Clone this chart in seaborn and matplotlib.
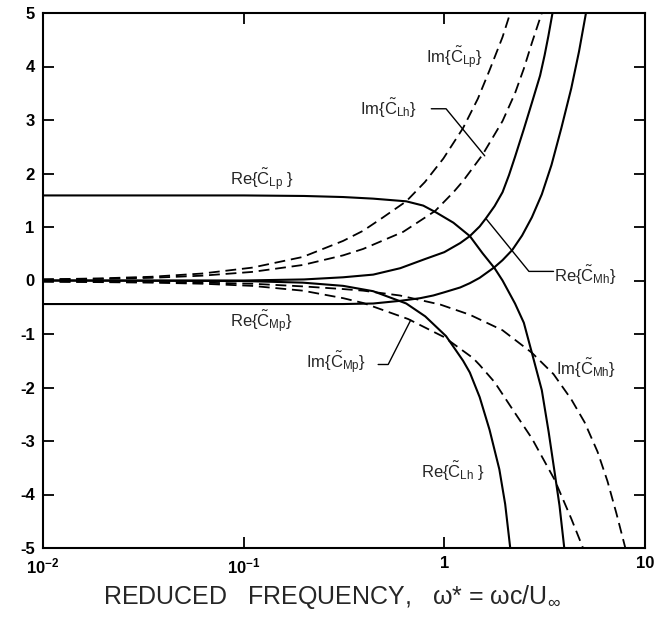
import matplotlib
matplotlib.use("Agg")
import matplotlib.pyplot as plt
import seaborn as sns
import pandas as pd

# ---- data (x = reduced frequency, y = coefficient) ----
re_clp_x = [0.01, 0.1, 0.2, 0.313, 0.442, 0.646, 0.785, 0.912, 1.11, 1.34, 1.55, 1.78, 1.95,
            2.25, 2.49, 2.73, 3.06, 3.31, 3.54, 3.75, 3.96]
re_clp_y = [1.59, 1.59, 1.58, 1.56, 1.53, 1.48, 1.40, 1.27, 1.08, 0.83, 0.51, 0.23, 0.0,
            -0.43, -0.79, -1.35, -2.05, -2.83, -3.57, -4.21, -5.0]

re_cmh_x = [0.01, 0.1, 0.2, 0.313, 0.442, 0.603, 0.80, 1.0, 1.2, 1.34, 1.5, 1.61, 1.78, 1.95,
            2.1, 2.25, 2.49, 2.73, 3.0, 3.16, 3.3, 3.46]
re_cmh_y = [0.0, 0.0, 0.02, 0.06, 0.11, 0.23, 0.40, 0.53, 0.70, 0.83, 1.01, 1.16, 1.39, 1.65,
            1.97, 2.31, 2.83, 3.32, 3.83, 4.21, 4.57, 5.0]

re_cmp_x = [0.01, 0.1, 0.313, 0.442, 0.603, 0.759, 0.881, 1.0, 1.2, 1.34, 1.5, 1.78, 1.95,
            2.18, 2.44, 2.73, 3.06, 3.42, 3.83, 4.29, 4.69, 5.08]
re_cmp_y = [-0.44, -0.44, -0.44, -0.43, -0.38, -0.33, -0.28, -0.22, -0.13, -0.05, 0.05, 0.25, 0.38,
            0.57, 0.84, 1.18, 1.61, 2.16, 2.85, 3.59, 4.28, 5.0]

re_clh_x = [0.01, 0.1, 0.197, 0.313, 0.442, 0.646, 0.803, 1.02, 1.13, 1.24, 1.34, 1.5, 1.68,
            1.88, 2.01, 2.13]
re_clh_y = [0.0, -0.01, -0.04, -0.10, -0.20, -0.43, -0.67, -1.04, -1.28, -1.50, -1.72, -2.18, -2.79,
            -3.53, -4.18, -5.0]

im_clp_x = [0.01, 0.0194, 0.0347, 0.062, 0.11, 0.197, 0.313, 0.394, 0.495, 0.646, 0.80, 0.989,
            1.24, 1.47, 1.68, 1.95, 2.13]
im_clp_y = [0.02, 0.04, 0.07, 0.13, 0.24, 0.44, 0.74, 0.93, 1.18, 1.48, 1.84, 2.28, 2.85, 3.40,
            3.93, 4.55, 5.0]

im_clh_x = [0.01, 0.0194, 0.0347, 0.062, 0.11, 0.197, 0.313, 0.394, 0.624, 0.90, 1.11, 1.24,
            1.55, 1.95, 2.25, 2.49, 2.73, 3.06]
im_clh_y = [0.02, 0.03, 0.05, 0.09, 0.16, 0.29, 0.47, 0.59, 0.91, 1.30, 1.65, 1.86, 2.35, 2.98,
            3.50, 3.96, 4.44, 5.0]

im_cmp_x = [0.01, 0.0347, 0.062, 0.11, 0.197, 0.313, 0.394, 0.66, 1.0, 1.39, 1.5, 1.78, 2.18,
            2.73, 3.54, 4.29, 4.91]
im_cmp_y = [-0.02, -0.04, -0.06, -0.10, -0.19, -0.33, -0.42, -0.72, -1.06, -1.45, -1.58, -1.90,
            -2.40, -2.95, -3.72, -4.45, -5.0]

im_cmh_x = [0.01, 0.0347, 0.062, 0.11, 0.197, 0.313, 0.394, 0.6, 0.955, 1.34, 1.95, 2.73, 3.5,
            4.29, 5.0, 5.8, 6.5, 7.2, 7.98]
im_cmh_y = [-0.02, -0.03, -0.04, -0.06, -0.11, -0.16, -0.19, -0.28, -0.45, -0.64, -0.93, -1.35,
            -1.75, -2.22, -2.65, -3.20, -3.75, -4.35, -5.0]

x_ticks = [0.01, 0.1, 1, 10]
x_tick_labels = [r"10$^{\mathregular{-2}}$", r"10$^{\mathregular{-1}}$", "1", "10"]
y_ticks = [-5, -4, -3, -2, -1, 0, 1, 2, 3, 4, 5]

series = [
    ("Re_CLp", re_clp_x, re_clp_y, "solid"),
    ("Re_CMh", re_cmh_x, re_cmh_y, "solid"),
    ("Re_CMp", re_cmp_x, re_cmp_y, "solid"),
    ("Re_CLh", re_clh_x, re_clh_y, "solid"),
    ("Im_CLp", im_clp_x, im_clp_y, "dashed"),
    ("Im_CLh", im_clh_x, im_clh_y, "dashed"),
    ("Im_CMp", im_cmp_x, im_cmp_y, "dashed"),
    ("Im_CMh", im_cmh_x, im_cmh_y, "dashed"),
]

sns.set_style("ticks")
plt.rcParams["font.family"] = ["Liberation Sans", "DejaVu Sans"]
plt.rcParams["mathtext.fontset"] = "custom"
plt.rcParams["mathtext.rm"] = "Liberation Sans"
plt.rcParams["mathtext.it"] = "Liberation Sans:italic"
plt.rcParams["mathtext.bf"] = "Liberation Sans:bold"

fig = plt.figure(figsize=(6.56, 6.21), dpi=100)
ax = fig.add_axes([43 / 656, 1 - 548 / 621, (645 - 43) / 656, (548 - 13) / 621])

for name, xs, ys, kind in series:
    df = pd.DataFrame({"x": xs, "y": ys})
    sns.lineplot(data=df, x="x", y="y", ax=ax, color="black", sort=False,
                 estimator=None, linewidth=1.5 if kind == "solid" else 1.3,
                 linestyle="-" if kind == "solid" else (0, (6, 3.2)))

ax.set_xscale("log")
ax.set_xlim(0.01, 10)
ax.set_ylim(-5, 5)
ax.set_xticks(x_ticks)
ax.set_xticklabels(x_tick_labels)
ax.set_yticks(y_ticks)
ax.set_yticklabels([str(v) for v in y_ticks])
ax.minorticks_off()
ax.tick_params(axis="both", direction="in", length=8, width=1.3, top=True, right=True,
               labelsize=12, pad=6, colors="black")
for lab in ax.get_yticklabels() + ax.get_xticklabels():
    lab.set_fontweight("bold")
for sp in ax.spines.values():
    sp.set_linewidth(1.5)
    sp.set_color("black")
ax.set_xlabel("")
ax.set_ylabel("")

fig.text((103 + 560) / 2 / 656, 1 - 597 / 621,
         r"REDUCED   FREQUENCY,   ω* = ωc/U$_{\infty}$",
         ha="center", va="center", fontsize=18)

lab_kw = dict(fontsize=12, va="center", ha="left")
ax.text(0.81, 4.17, r"Im{$\tilde{\mathrm{C}}_{\mathrm{Lp}}$}", **lab_kw)
ax.text(0.38, 3.21, r"Im{$\tilde{\mathrm{C}}_{\mathrm{Lh}}$}", **lab_kw)
ax.text(0.085, 1.88, r"Re{$\tilde{\mathrm{C}}_{\mathrm{Lp}}$ }", **lab_kw)
ax.text(3.54, 0.09, r"Re{$\tilde{\mathrm{C}}_{\mathrm{Mh}}$}", **lab_kw)
ax.text(0.085, -0.76, r"Re{$\tilde{\mathrm{C}}_{\mathrm{Mp}}$}", **lab_kw)
ax.text(0.204, -1.53, r"Im{$\tilde{\mathrm{C}}_{\mathrm{Mp}}$}", **lab_kw)
ax.text(3.62, -1.65, r"Im{$\tilde{\mathrm{C}}_{\mathrm{Mh}}$}", **lab_kw)
ax.text(0.767, -3.57, r"Re{$\tilde{\mathrm{C}}_{\mathrm{Lh}}$ }", **lab_kw)

# leader lines
ax.plot([0.861, 1.02, 1.59], [3.21, 3.21, 2.33], color="black", lw=1.0)
ax.plot([3.50, 2.64, 1.61], [0.17, 0.17, 1.16], color="black", lw=1.0)
ax.plot([0.468, 0.525, 0.68], [-1.57, -1.57, -0.74], color="black", lw=1.0)

fig.savefig("out.png", dpi=100)
